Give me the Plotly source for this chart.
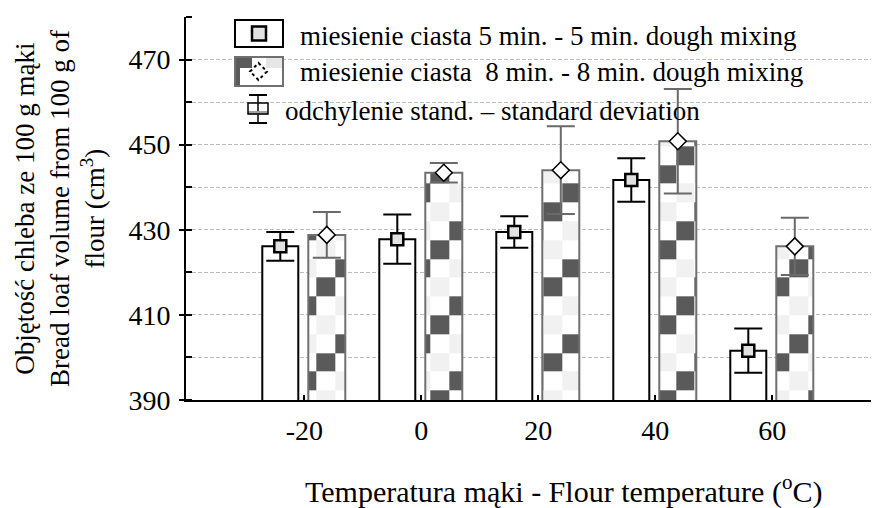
import numpy as np
import plotly.graph_objects as go

# ---------------- data ----------------
temps = [-20, 0, 20, 40, 60]
tick_labels = ["-20", "0", "20", "40", "60"]
vol_5min = [426.1, 427.8, 429.5, 441.7, 401.6]
sd_5min = [3.4, 5.8, 3.7, 5.1, 5.2]
vol_8min = [428.8, 443.4, 444.0, 450.8, 426.1]
sd_8min = [5.4, 2.3, 10.3, 12.3, 6.7]

name_5 = "miesienie ciasta 5 min. - 5 min. dough mixing"
name_8 = "miesienie ciasta \u00a08 min. - 8 min. dough mixing"
name_sd = "odchylenie stand. \u2013 standard deviation"
x_title = "Temperatura mąki - Flour temperature (<sup>o</sup>C)"
y_title = ("Objętość chleba ze 100 g mąki<br>Bread loaf volume from 100 g of"
           "<br>flour (cm<sup>3</sup>)")

# ---------------- geometry / style ----------------
PAGE_OFF = 8            # default page margin around the figure
W, H = 879 - PAGE_OFF, 508 - PAGE_OFF
ML, MR, MT, MB = 186 - PAGE_OFF, 0, 17 - PAGE_OFF, 108
PW, PH = W - ML - MR, H - MT - MB
Y_RANGE = [390, 480]
X_RANGE = [-40.22, 78.24]
px_x = PW / (X_RANGE[1] - X_RANGE[0])
px_y = PH / (Y_RANGE[1] - Y_RANGE[0])

OFF_5 = -24 / px_x
OFF_8 = 22.5 / px_x
BW5 = 36 / px_x
BW8 = 37 / px_x

FONT = "Liberation Serif, Times New Roman, Times, DejaVu Serif, serif"
DARK = "#5a5a5a"
LIGHT = "#f1f1f1"
GRID = "#bdbdbd"

# checker fill for the 8-min bars (global tiling, as in the original)
TILE_X = 18.9 / px_x
TILE_Y = 18.8 / px_y
ORIG_X = temps[0] - 6.5 / px_x
ORIG_Y = Y_RANGE[0] + 9.5 / px_y

bars8 = [(t + OFF_8 - BW8 / 2, t + OFF_8 + BW8 / 2, v) for t, v in zip(temps, vol_8min)]
xe = set()
for l, r, v in bars8:
    xe.update([l, r])
    n0 = int(np.ceil((l - ORIG_X) / TILE_X))
    n1 = int(np.floor((r - ORIG_X) / TILE_X))
    for n in range(n0, n1 + 1):
        xv = ORIG_X + n * TILE_X
        if l + 1e-6 < xv < r - 1e-6:
            xe.add(xv)
xe = sorted(xe)
ye = {Y_RANGE[0]}
k = 0
while ORIG_Y + k * TILE_Y < max(vol_8min):
    ye.add(ORIG_Y + k * TILE_Y)
    k += 1
ye.update(vol_8min)
ye = sorted(ye)
z = []
for j in range(len(ye) - 1):
    yc = (ye[j] + ye[j + 1]) / 2
    row = []
    for i in range(len(xe) - 1):
        xc = (xe[i] + xe[i + 1]) / 2
        val = None
        for l, r, v in bars8:
            if l < xc < r and yc < v:
                g = int(np.floor((xc - ORIG_X) / TILE_X))
                kk = int(np.floor((yc - ORIG_Y) / TILE_Y)) + 1
                m = (g - kk) % 4
                val = 2 if m == 3 else (1 if m == 1 else 0)
        row.append(val)
    z.append(row)

fig = go.Figure()

fig.add_trace(go.Heatmap(
    x=xe, y=ye, z=z, zmin=0, zmax=2, showscale=False, hoverinfo="skip",
    colorscale=[[0, "white"], [0.25, "white"], [0.25, LIGHT], [0.75, LIGHT],
                [0.75, DARK], [1, DARK]],
))

fig.add_trace(go.Bar(
    x=temps, y=vol_5min, width=BW5, offset=OFF_5 - BW5 / 2, name=name_5,
    marker=dict(color="white", line=dict(color="black", width=2)),
))
fig.add_trace(go.Bar(
    x=temps, y=vol_8min, width=BW8, offset=OFF_8 - BW8 / 2, name=name_8,
    marker=dict(color="rgba(0,0,0,0)", line=dict(color="#707070", width=2)),
))

fig.add_trace(go.Scatter(
    x=[t + OFF_5 for t in temps], y=vol_5min, mode="markers",
    error_y=dict(type="data", array=sd_5min, color="black", thickness=2, width=14),
    marker=dict(symbol="square", size=12, color="#e2e2e2",
                line=dict(color="black", width=2.5)),
))
fig.add_trace(go.Scatter(
    x=[t + OFF_8 for t in temps], y=vol_8min, mode="markers",
    error_y=dict(type="data", array=sd_8min, color="#6a6a6a", thickness=2, width=14),
    marker=dict(symbol="diamond", size=13, color="white",
                line=dict(color="black", width=1.5)),
))


# helpers: page pixel -> paper coordinates
def px_to_paper_x(px):
    return (px - PAGE_OFF - ML) / PW


def px_to_paper_y(py):
    return (H - MB - (py - PAGE_OFF)) / PH


shapes = []


def rect(x0, y0, x1, y1, line_color=None, line_w=0, fill=None):
    shapes.append(dict(type="rect", xref="paper", yref="paper",
                       x0=px_to_paper_x(x0), x1=px_to_paper_x(x1),
                       y0=px_to_paper_y(y0), y1=px_to_paper_y(y1),
                       line=dict(color=line_color or "rgba(0,0,0,0)", width=line_w),
                       fillcolor=fill or "rgba(0,0,0,0)", layer="above"))


def line(x0, y0, x1, y1, color="black", w=2):
    shapes.append(dict(type="line", xref="paper", yref="paper",
                       x0=px_to_paper_x(x0), x1=px_to_paper_x(x1),
                       y0=px_to_paper_y(y0), y1=px_to_paper_y(y1),
                       line=dict(color=color, width=w), layer="above"))


# legend row 1
rect(235, 20, 283, 47, "black", 2, "white")
rect(252, 26.5, 266, 40.5, "black", 2.5, "#e2e2e2")
# legend row 2
rect(235, 57, 283, 86, "#707070", 2, "white")
rect(236, 58, 252, 68, fill=DARK)
rect(236, 68, 240, 85, fill=DARK)
rect(266, 58, 282, 68, fill="#e6e6e6")
cx, cy, hd = 258.5, 71.5, 8.5
path = "M {} {} L {} {} L {} {} L {} {} Z".format(
    px_to_paper_x(cx), px_to_paper_y(cy - hd), px_to_paper_x(cx + hd), px_to_paper_y(cy),
    px_to_paper_x(cx), px_to_paper_y(cy + hd), px_to_paper_x(cx - hd), px_to_paper_y(cy))
shapes.append(dict(type="path", xref="paper", yref="paper", path=path,
                   fillcolor="white", line=dict(color="black", width=2, dash="dot"),
                   layer="above"))
# legend row 3 (std-dev symbol)
line(258, 95, 258, 123, "black", 1.5)
line(249, 95, 267, 95, "black", 2)
line(249, 123, 267, 123, "black", 2)
rect(248, 111, 268, 114.5, fill="#a0a0a0")
rect(248, 103, 268, 114, "black", 1.5)

TXT = dict(family=FONT, size=27, color="black")
annotations = [
    dict(text=name_5, x=px_to_paper_x(298), y=px_to_paper_y(36), xref="paper", yref="paper",
         xanchor="left", yanchor="middle", showarrow=False, font=TXT),
    dict(text=name_8, x=px_to_paper_x(298), y=px_to_paper_y(72), xref="paper", yref="paper",
         xanchor="left", yanchor="middle", showarrow=False, font=TXT),
    dict(text=name_sd, x=px_to_paper_x(283), y=px_to_paper_y(111), xref="paper", yref="paper",
         xanchor="left", yanchor="middle", showarrow=False, font=TXT),
    dict(text=x_title, x=px_to_paper_x(563), y=px_to_paper_y(489), xref="paper", yref="paper",
         xanchor="center", yanchor="middle", showarrow=False,
         font=dict(family=FONT, size=30, color="black")),
    dict(text=y_title, x=px_to_paper_x(60), y=px_to_paper_y(209), xref="paper", yref="paper",
         xanchor="center", yanchor="middle", textangle=-90, showarrow=False, font=TXT),
]

fig.update_layout(
    width=W, height=H, margin=dict(l=ML, r=MR, t=MT, b=MB, pad=0),
    plot_bgcolor="white", paper_bgcolor="white", showlegend=False,
    barmode="overlay", font=dict(family=FONT, color="black"),
    shapes=shapes, annotations=annotations,
    xaxis=dict(range=X_RANGE, tickmode="array", tickvals=temps, ticktext=tick_labels,
               ticks="inside", ticklen=5, tickwidth=2, tickcolor="black",
               showline=True, linewidth=2, linecolor="black", showgrid=False,
               zeroline=False, tickfont=dict(family=FONT, size=28, color="black"),
               ticklabelstandoff=4),
    xaxis2=dict(range=X_RANGE, overlaying="x", side="top", anchor="y",
                tickmode="linear", tick0=0, dtick=5, ticks="inside", ticklen=6,
                tickwidth=1.5, tickcolor="black", showticklabels=False,
                showline=True, linewidth=2, linecolor="black", showgrid=False,
                zeroline=False),
    yaxis=dict(range=Y_RANGE, tickmode="linear", tick0=390, dtick=20,
               ticks="outside", ticklen=5, tickwidth=2, tickcolor="black",
               showline=True, linewidth=2, linecolor="black",
               showgrid=True, gridcolor=GRID, gridwidth=1, griddash="4px,2px",
               zeroline=False, tickfont=dict(family=FONT, size=28, color="black"),
               ticklabelstandoff=3,
               minor=dict(tick0=390, dtick=10, ticks="inside", ticklen=6, tickwidth=1.5,
                          tickcolor="black", showgrid=True, gridcolor=GRID,
                          gridwidth=1, griddash="4px,2px")),
)

fig.write_html("out.html")
